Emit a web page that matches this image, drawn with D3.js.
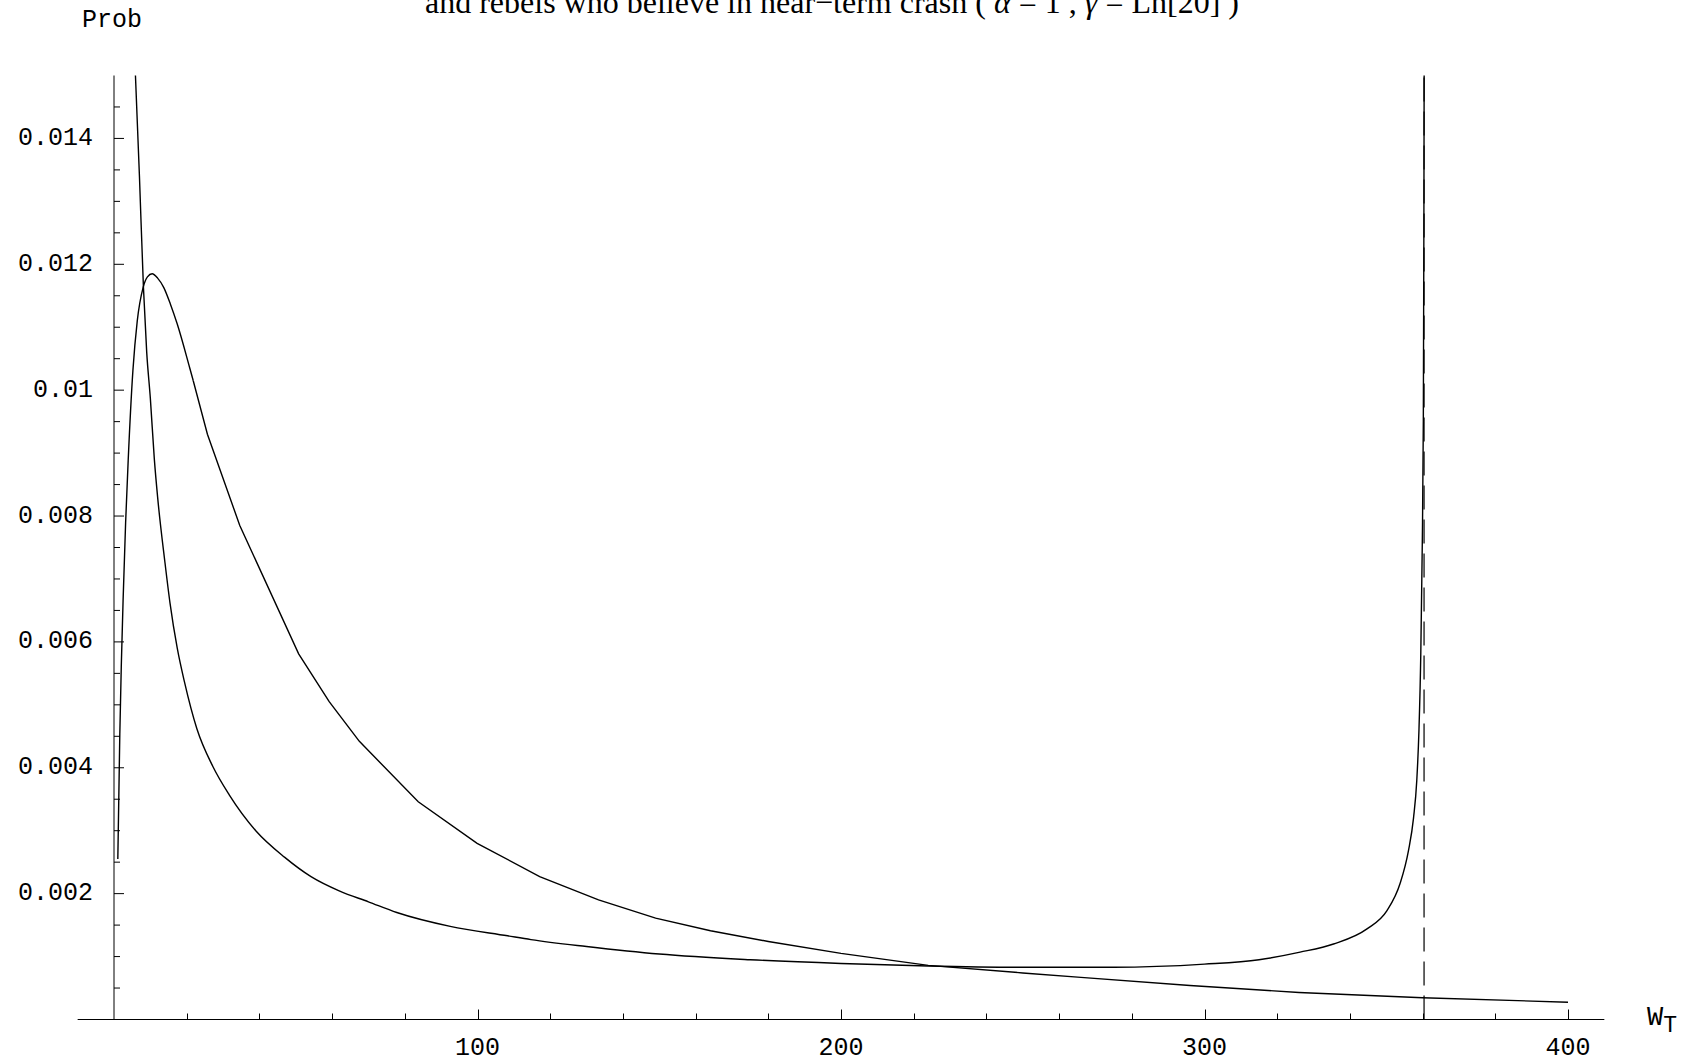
<!DOCTYPE html>
<html>
<head>
<meta charset="utf-8">
<script src="https://cdn.jsdelivr.net/npm/d3@7"></script>
<style>
  html, body { margin: 0; padding: 0; background: #fff; }
  svg { display: block; }
  .lbl { font-family: "Liberation Mono", "Courier New", monospace; font-size: 25px; fill: #000; }
  .title { font-family: "Liberation Serif", "Times New Roman", serif; font-size: 32px; fill: #000; }
</style>
</head>
<body>
<svg id="chart" width="1696" height="1064"></svg>
<script>
// title (first line falls outside the picture, only the second one shows)
var titleText = "and rebels who believe in near\u2212term crash ( ";

// peaked density
var peakX = [1.05, 1.6, 2.0, 2.5, 3.2, 3.9, 5.2, 6.4, 8.0, 9.2, 10.5, 12.0, 13.7, 15.5, 17.4,
  20.8, 21.8, 25.7, 34.6, 50.8, 59.2, 67.5, 83.7, 99.9, 117.1, 133.3, 149.0, 164.1, 180,
  200, 224, 250, 266, 296, 326, 360, 400];
var peakY = [0.00255, 0.00454, 0.0056, 0.00666, 0.0079, 0.00888, 0.01031, 0.0111, 0.01163,
  0.0118, 0.01185, 0.01178, 0.01163, 0.01137, 0.01105, 0.01036, 0.01015, 0.0093, 0.00785,
  0.00581, 0.00505, 0.00442, 0.00346, 0.0028, 0.00227, 0.0019, 0.00161, 0.00141, 0.00124,
  0.00105, 0.00086, 0.00074, 0.00067, 0.00054, 0.00043, 0.000345, 0.000275];

// u-shaped density with the crash asymptote
var crashX = [4.8, 5.9, 7.0, 8.1, 9.0, 10.0, 11.1, 12.0, 14.0, 15.4, 17.4, 19.4, 22.8, 27.2,
  31.7, 39.0, 46.9, 54.2, 62.1, 70.0, 77.8, 92.5, 108.3, 114.7, 130, 150, 175, 200, 224,
  250, 275, 300, 315, 326.3, 335.5, 344.7, 350.2, 353.8, 356.1, 357.5, 358.4, 359.0, 359.5,
  359.9, 360.2, 360.35, 360.45];
var crashY = [0.0168, 0.015, 0.0134, 0.01163, 0.0106, 0.00987, 0.0089, 0.0083, 0.00727,
  0.00662, 0.0059, 0.00536, 0.00462, 0.00402, 0.00357, 0.003, 0.00258, 0.00227, 0.00204,
  0.00187, 0.0017, 0.00148, 0.00133, 0.00127, 0.00116, 0.00104, 0.00095, 0.00089, 0.00085,
  0.00083, 0.00083, 0.00088, 0.00095, 0.00107, 0.0012, 0.00144, 0.00173, 0.00216, 0.00268,
  0.0032, 0.0038, 0.0046, 0.0058, 0.0075, 0.0095, 0.0125, 0.0158];

var asymptoteX = 360.4;

var xMajor = [100, 200, 300, 400];
var xMinor = [20, 40, 60, 80, 120, 140, 160, 180, 220, 240, 260, 280, 320, 340, 360, 380];
var yMajor = [0.002, 0.004, 0.006, 0.008, 0.01, 0.012, 0.014];
var yMajorLabels = ["0.002", "0.004", "0.006", "0.008", "0.01", "0.012", "0.014"];
var yMinor = [0.0005, 0.001, 0.0015, 0.0025, 0.003, 0.0035, 0.0045, 0.005, 0.0055, 0.0065,
  0.007, 0.0075, 0.0085, 0.009, 0.0095, 0.0105, 0.011, 0.0115, 0.0125, 0.013, 0.0135, 0.0145];

var svg = d3.select("#chart");

var x = d3.scaleLinear().domain([-10, 410]).range([77.65, 1604.35]);
var y = d3.scaleLinear().domain([0, 0.015]).range([1019.5, 75.5]);

svg.append("defs").append("clipPath").attr("id", "plotclip")
  .append("rect").attr("x", 0).attr("y", y(0.015)).attr("width", 1696).attr("height", y(0) - y(0.015) + 1);

// x axis
var gx = svg.append("g");
gx.append("line").attr("x1", x(-10)).attr("x2", x(410)).attr("y1", y(0)).attr("y2", y(0))
  .attr("stroke", "#000").attr("stroke-width", 1);
gx.selectAll(".xmin").data(xMinor).enter().append("line")
  .attr("x1", function(d){ return Math.round(x(d)) + 0.5; })
  .attr("x2", function(d){ return Math.round(x(d)) + 0.5; })
  .attr("y1", y(0)).attr("y2", y(0) - 6).attr("stroke", "#000");
gx.selectAll(".xmaj").data(xMajor).enter().append("line")
  .attr("x1", function(d){ return Math.round(x(d)) + 0.5; })
  .attr("x2", function(d){ return Math.round(x(d)) + 0.5; })
  .attr("y1", y(0)).attr("y2", y(0) - 10).attr("stroke", "#000");
gx.selectAll("text").data(xMajor).enter().append("text")
  .attr("class", "lbl").attr("text-anchor", "middle")
  .attr("x", function(d){ return x(d); }).attr("y", 1055)
  .text(function(d){ return d; });

// y axis, drawn on a whole pixel so it comes out soft grey like the original
var gy = svg.append("g");
gy.append("line").attr("x1", x(0)).attr("x2", x(0)).attr("y1", y(0)).attr("y2", y(0.015))
  .attr("stroke", "#000").attr("stroke-width", 1);
gy.selectAll(".ymin").data(yMinor).enter().append("line")
  .attr("x1", x(0)).attr("x2", x(0) + 6)
  .attr("y1", function(d){ return y(d); }).attr("y2", function(d){ return y(d); })
  .attr("stroke", "#000");
gy.selectAll(".ymaj").data(yMajor).enter().append("line")
  .attr("x1", x(0)).attr("x2", x(0) + 10)
  .attr("y1", function(d){ return y(d); }).attr("y2", function(d){ return y(d); })
  .attr("stroke", "#000");
gy.selectAll("text").data(yMajor).enter().append("text")
  .attr("class", "lbl").attr("text-anchor", "end").attr("dominant-baseline", "central")
  .attr("x", 93).attr("y", function(d){ return y(d); })
  .text(function(d, i){ return yMajorLabels[i]; });

// axis names
svg.append("text").attr("class", "lbl").attr("x", 82).attr("y", 26.5).text("Prob");
var wt = svg.append("text").attr("class", "lbl").attr("x", 1647).attr("y", 1025)
  .style("font-size", "27px");
wt.append("tspan").text("W");
wt.append("tspan").attr("dy", 7).style("font-size", "23px").text("T");

// title line
var tt = svg.append("text").attr("class", "title").attr("x", 425).attr("y", 13);
tt.append("tspan").text(titleText);
tt.append("tspan").style("font-style", "italic").text("\u03b1");
tt.append("tspan").text(" = 1 , ");
tt.append("tspan").style("font-style", "italic").text("\u03b3");
tt.append("tspan").text(" = Ln[20] )");

// curves
var smooth = d3.line()
  .curve(d3.curveMonotoneX)
  .x(function(d){ return x(d[0]); })
  .y(function(d){ return y(d[1]); });
var straight = d3.line()
  .x(function(d){ return x(d[0]); })
  .y(function(d){ return y(d[1]); });

var plot = svg.append("g").attr("clip-path", "url(#plotclip)");

plot.append("line")
  .attr("x1", x(asymptoteX)).attr("x2", x(asymptoteX))
  .attr("y1", y(0)).attr("y2", y(0.015))
  .attr("stroke", "#000").attr("stroke-width", 1.2).attr("stroke-dasharray", "24,10");

var peak = d3.zip(peakX, peakY);
// rounded head, straight pieces on the tail like the original sampling
plot.append("path")
  .datum(peak.filter(function(d){ return d[0] <= 21.8; }))
  .attr("d", smooth).attr("fill", "none").attr("stroke", "#000").attr("stroke-width", 1.4);
plot.append("path")
  .datum(peak.filter(function(d){ return d[0] >= 21.8; }))
  .attr("d", straight).attr("fill", "none").attr("stroke", "#000").attr("stroke-width", 1.4);

plot.append("path")
  .datum(d3.zip(crashX, crashY))
  .attr("d", smooth).attr("fill", "none").attr("stroke", "#000").attr("stroke-width", 1.4);
</script>
</body>
</html>
